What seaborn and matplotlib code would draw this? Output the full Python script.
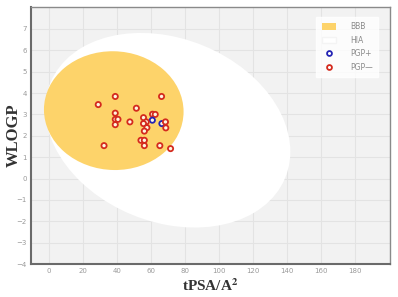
import matplotlib
matplotlib.use("Agg")
import matplotlib.pyplot as plt
import seaborn as sns
import pandas as pd
from matplotlib.patches import Ellipse, Patch
from matplotlib.lines import Line2D

# BOILED-Egg ellipses (center x, center y, full width, full height, angle in deg)
hia_ellipse = (69.9, 2.26, 144.0, 8.88, -0.80)
bbb_ellipse = (38.117, 3.177, 82.061, 5.557, -0.066989)

# compounds
tpsa = [39.0, 66.2, 29.0, 51.4, 39.0, 60.9, 62.5, 39.0, 40.6, 55.6, 60.8, 66.4,
        68.5, 47.6, 57.2, 55.6, 39.0, 68.7, 57.6, 56.1, 54.1, 56.1, 56.1, 32.4,
        65.2, 71.5]
wlogp = [3.84, 3.84, 3.46, 3.29, 3.06, 3.01, 3.00, 2.77, 2.77, 2.85, 2.73, 2.57,
         2.65, 2.65, 2.65, 2.57, 2.52, 2.37, 2.38, 2.22, 1.79, 1.79, 1.54, 1.54,
         1.54, 1.40]
pgp = ["PGP-", "PGP-", "PGP-", "PGP-", "PGP-", "PGP-", "PGP-", "PGP-", "PGP-",
       "PGP-", "PGP+", "PGP+", "PGP-", "PGP-", "PGP-", "PGP-", "PGP-", "PGP-",
       "PGP-", "PGP-", "PGP-", "PGP-", "PGP-", "PGP-", "PGP-", "PGP-"]

x_ticks = [0, 20, 40, 60, 80, 100, 120, 140, 160, 180]
y_ticks = [-4, -3, -2, -1, 0, 1, 2, 3, 4, 5, 6, 7]

df = pd.DataFrame({"tPSA": tpsa, "WLOGP": wlogp, "PGP": pgp})

sns.set_theme(style="whitegrid")
fig = plt.figure(figsize=(3.98, 2.97), dpi=100)
ax = fig.add_axes([0.078, 0.111, 0.902, 0.865])
ax.set_facecolor("#f2f2f2")

cx, cy, w, h, a = hia_ellipse
ax.add_patch(Ellipse((cx, cy), w, h, angle=a, facecolor="white", edgecolor="none", zorder=1))
cx, cy, w, h, a = bbb_ellipse
ax.add_patch(Ellipse((cx, cy), w, h, angle=a, facecolor="#fdd36a", edgecolor="none", zorder=2))

sns.scatterplot(data=df, x="tPSA", y="WLOGP", hue="PGP",
                palette={"PGP-": "#d42a1e", "PGP+": "#2424b4"},
                hue_order=["PGP-", "PGP+"],
                s=14, marker="o", linewidth=1.3,
                ax=ax, zorder=3, legend=False)
for coll in ax.collections:
    ec = coll.get_facecolors()
    coll.set_edgecolors(ec)
    coll.set_facecolors("#fff6e0")

ax.set_xlim(-10.5, 200.5)
ax.set_ylim(-4, 8.02)
ax.set_xticks(x_ticks)
ax.set_yticks(y_ticks)
ax.grid(True, color="#e3e3e3", linewidth=0.8)
ax.set_axisbelow(True)
for g in ax.get_xgridlines() + ax.get_ygridlines():
    g.set_zorder(0.5)
ax.tick_params(axis="both", labelsize=5, colors="#9a9a9a", length=0, pad=3)
for side in ["left", "bottom"]:
    ax.spines[side].set_color("#6a6a6a")
    ax.spines[side].set_linewidth(1.5)
for side in ["right", "top"]:
    ax.spines[side].set_color("#8a8a8a")
    ax.spines[side].set_linewidth(1.0)

ax.set_xlabel("tPSA/A$^\\mathbf{2}$", fontsize=11, fontweight="bold",
              family="Liberation Serif", color="#333333", labelpad=2)
ax.xaxis.label.set_math_fontfamily("stix")
ax.set_ylabel("WLOGP", fontsize=12, fontweight="bold",
              family="Liberation Serif", color="#333333")
ax.yaxis.set_label_coords(-0.025, 0.5)

handles = [
    Patch(facecolor="#fdd36a", edgecolor="none", label="BBB"),
    Patch(facecolor="white", edgecolor="#f4f4f4", label="HIA"),
    Line2D([], [], marker="o", linestyle="none", markersize=3.5, markeredgewidth=1.3,
           markerfacecolor="white", markeredgecolor="#2424b4", label="PGP+"),
    Line2D([], [], marker="o", linestyle="none", markersize=3.5, markeredgewidth=1.3,
           markerfacecolor="white", markeredgecolor="#d42a1e", label="PGP\u2014"),
]
leg = ax.legend(handles=handles, loc="upper right", bbox_to_anchor=(0.967, 0.963),
                fontsize=5.5, frameon=True, fancybox=False, handlelength=1.8,
                handleheight=1.0, labelspacing=0.6, borderpad=0.7, borderaxespad=0,
                handletextpad=1.9)
leg.get_frame().set_facecolor("white")
leg.get_frame().set_edgecolor("white")
for t in leg.get_texts():
    t.set_color("#8a8a8a")

fig.savefig("out.png", dpi=100)
